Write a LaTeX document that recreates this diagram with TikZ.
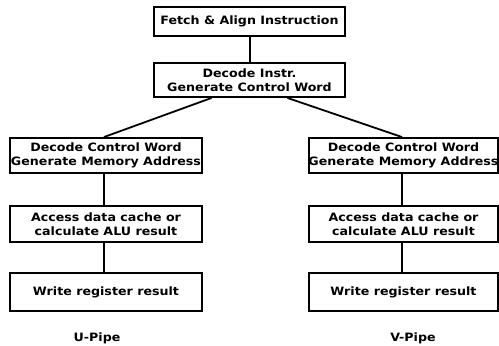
\documentclass[tikz,border=0pt]{standalone}
\usepackage{fontspec}
\setmainfont{DejaVu Sans}[FakeStretch=1.1]
\begin{document}
\begin{tikzpicture}[x=1pt,y=-1pt,
  stage/.style={draw=black, line width=1.9pt, inner sep=0pt, align=center,
    font=\bfseries\fontsize{11.5}{14}\selectfont},
  wire/.style={draw=black, line width=1.8pt},
  pipe/.style={font=\bfseries\fontsize{11.5}{13}\selectfont}]
\useasboundingbox (0,0) rectangle (499,346);
\newcommand{\stageline}[1]{\makebox[0pt]{#1}}
% common front end
\node[stage, minimum width=191pt, minimum height=29pt] (fetch) at (249.5,21.5)
  {\stageline{Fetch \& Align Instruction}};
\node[stage, minimum width=191pt, minimum height=34pt] (decode) at (249.5,80)
  {\stageline{Decode Instr.}\\ \stageline{Generate Control Word}};
% U pipe
\node[stage, minimum width=192pt, minimum height=35pt] (ldec) at (106,155.5)
  {\stageline{Decode Control Word}\\ \stageline{Generate Memory Address}};
\node[stage, minimum width=192pt, minimum height=36pt] (lacc) at (106,224)
  {\stageline{Access data cache or}\\ \stageline{calculate ALU result}};
\node[stage, minimum width=192pt, minimum height=38pt] (lwr) at (106,292)
  {\stageline{Write register result}};
\node[pipe] (upipe) at (97,338) {U-Pipe};
% V pipe
\node[stage, minimum width=189pt, minimum height=35pt] (rdec) at (403.5,155.5)
  {\stageline{Decode Control Word}\\ \stageline{Generate Memory Address}};
\node[stage, minimum width=189pt, minimum height=36pt] (racc) at (403.5,224)
  {\stageline{Access data cache or}\\ \stageline{calculate ALU result}};
\node[stage, minimum width=189pt, minimum height=38pt] (rwr) at (403.5,292)
  {\stageline{Write register result}};
\node[pipe] (vpipe) at (413,338) {V-Pipe};
% connectors
\draw[wire] ([xshift=0.5pt]fetch.south) -- ([xshift=0.5pt]decode.north);
\draw[wire] ([xshift=-38pt]decode.south) -- ([xshift=-2pt]ldec.north);
\draw[wire] ([xshift=38pt]decode.south) -- ([xshift=-1.5pt]rdec.north);
\draw[wire] ([xshift=-2pt]ldec.south) -- ([xshift=-2pt]lacc.north);
\draw[wire] ([xshift=-2pt]lacc.south) -- ([xshift=-2pt]lwr.north);
\draw[wire] ([xshift=-1.5pt]rdec.south) -- ([xshift=-1.5pt]racc.north);
\draw[wire] ([xshift=-1.5pt]racc.south) -- ([xshift=-1.5pt]rwr.north);
\end{tikzpicture}
\end{document}
